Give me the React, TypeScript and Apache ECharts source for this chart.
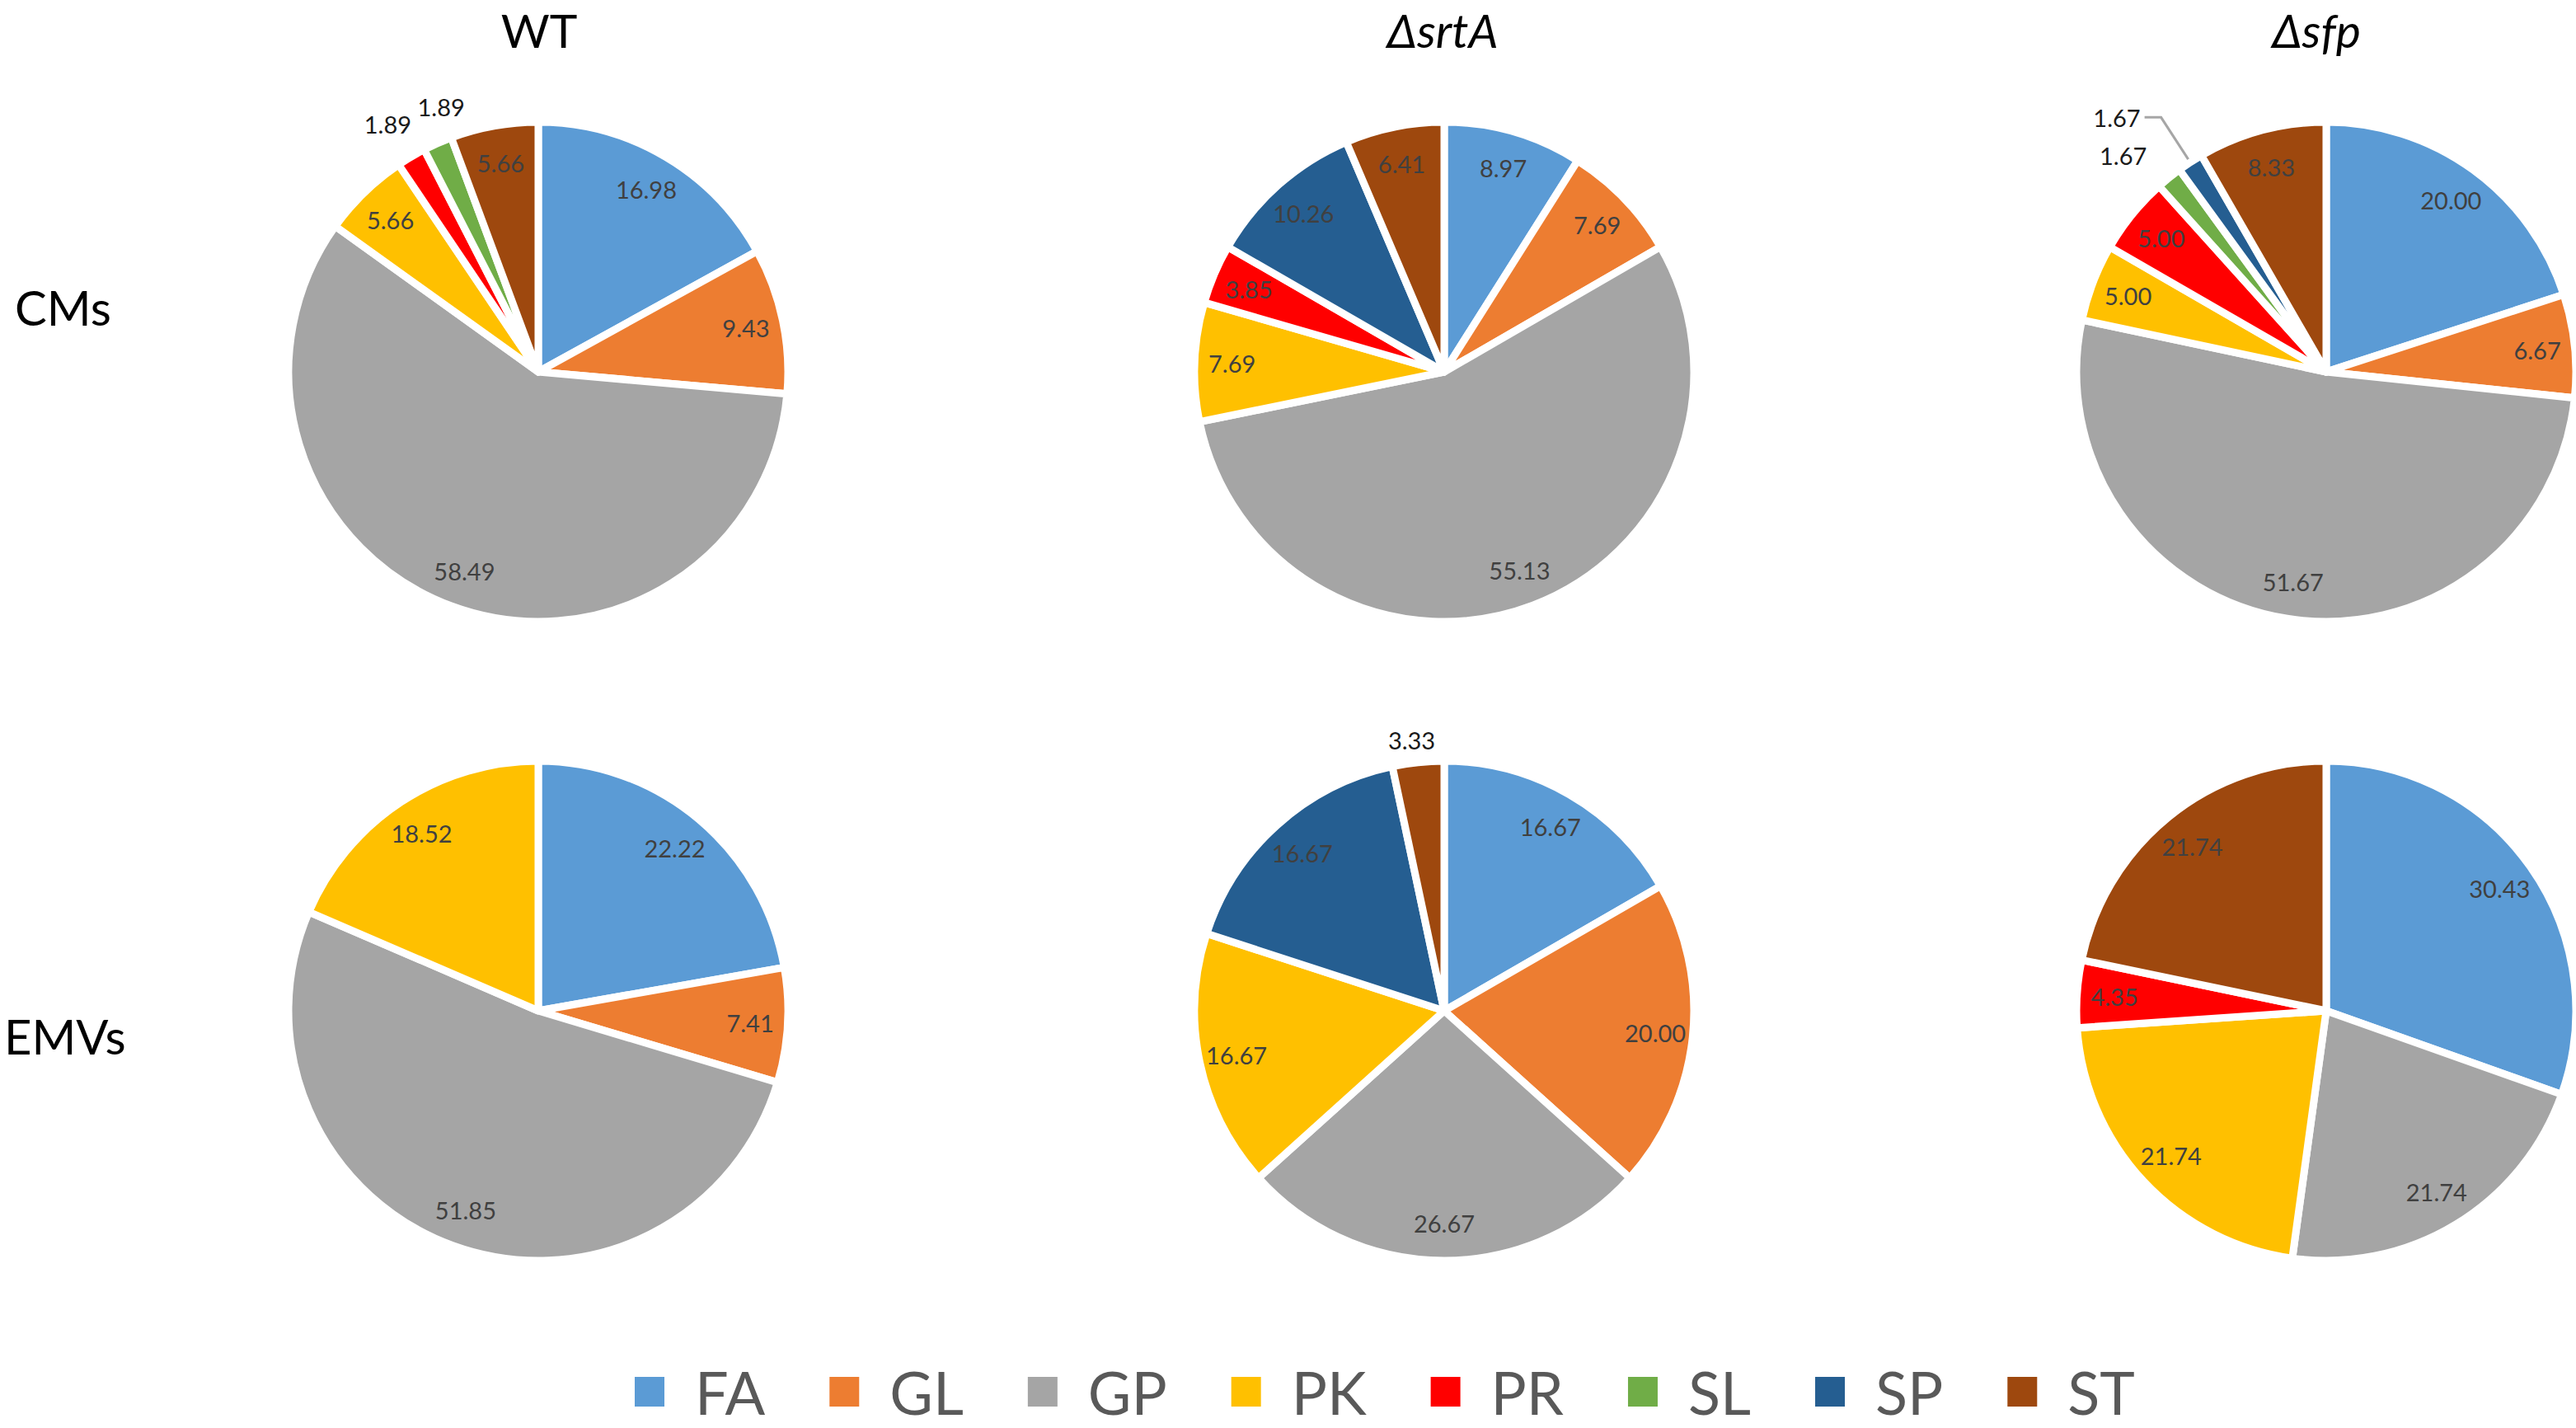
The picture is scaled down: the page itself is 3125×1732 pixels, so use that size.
import React, { useEffect, useRef } from "react";
import * as echarts from "echarts";

const categories = ["FA", "GL", "GP", "PK", "PR", "SL", "SP", "ST"];
const palette = ["#5B9BD5", "#ED7D31", "#A5A5A5", "#FFC000", "#FF0000", "#70AD47", "#255E91", "#9E480E"];

const strains = ["WT", "ΔsrtA", "Δsfp"];
const fractions = ["CMs", "EMVs"];

const wtCMs = [16.98, 9.43, 58.49, 5.66, 1.89, 1.89, 0, 5.66];
const srtaCMs = [8.97, 7.69, 55.13, 7.69, 3.85, 0, 10.26, 6.41];
const sfpCMs = [20.0, 6.67, 51.67, 5.0, 5.0, 1.67, 1.67, 8.33];
const wtEMVs = [22.22, 7.41, 51.85, 18.52, 0, 0, 0, 0];
const srtaEMVs = [16.67, 20.0, 26.67, 16.67, 0, 0, 16.67, 3.33];
const sfpEMVs = [30.43, 0, 21.74, 21.74, 4.35, 0, 0, 21.74];

// outside labels: [pieIndex, categoryIndex, lineLength, showLine, textAlign]
const outsideLabels: [number, number, number, boolean, string][] = [
  [0, 4, 46, false, "center"],
  [0, 5, 48, false, "left"],
  [2, 5, 35, false, "right"],
  [2, 6, 65, true, "right"],
  [4, 7, 27, false, "center"],
];

const FONT = "Lato, 'Open Sans', sans-serif";
const R = 303;
const colX = [653, 1752, 2822];
const rowY = [451, 1226];
const titleX = [654, 1750, 2810];

export default function App() {
  const ref = useRef<HTMLDivElement>(null);
  useEffect(() => {
    document.body.style.margin = "0";
    if (!ref.current) return;
    const chart = echarts.init(ref.current, undefined, { renderer: "svg" });
    const pies = [wtCMs, srtaCMs, sfpCMs, wtEMVs, srtaEMVs, sfpEMVs];
    const shapeSeries: any[] = [];
    const labelSeries: any[] = [];
    pies.forEach((vals, p) => {
      const center = [colX[p % 3], rowY[Math.floor(p / 3)]];
      const shapes: any[] = [];
      const labels: any[] = [];
      const alignByIndex: Record<number, string> = {};
      vals.forEach((v, i) => {
        if (!v) return;
        shapes.push({ name: categories[i], value: v, itemStyle: { color: palette[i] } });
        const out = outsideLabels.find((o) => o[0] === p && o[1] === i);
        const item: any = { name: categories[i], value: v };
        if (out) {
          item.label = { position: "outside", color: "#1a1a1a" };
          item.labelLine = out[3]
            ? { show: true, length: out[2], length2: 20, lineStyle: { color: "#A6A6A6", width: 3 } }
            : { show: false, length: out[2], length2: 0 };
          alignByIndex[labels.length] = out[4];
        }
        labels.push(item);
      });
      shapeSeries.push({
        type: "pie",
        center,
        radius: [0, R],
        startAngle: 90,
        clockwise: true,
        avoidLabelOverlap: false,
        label: { show: false },
        labelLine: { show: false },
        itemStyle: { borderColor: "#ffffff", borderWidth: 9 },
        emphasis: { disabled: true },
        silent: true,
        data: shapes,
      });
      labelSeries.push({
        type: "pie",
        center,
        radius: [R * 0.68, R],
        startAngle: 90,
        clockwise: true,
        avoidLabelOverlap: false,
        silent: true,
        emphasis: { disabled: true },
        itemStyle: { color: "rgba(0,0,0,0)", borderWidth: 0 },
        label: {
          show: true,
          position: "inside",
          fontSize: 29,
          fontFamily: FONT,
          color: "#404040",
          formatter: (prm: any) => Number(prm.value).toFixed(2),
        },
        labelLine: { show: false },
        labelLayout: (prm: any) => {
          const a = alignByIndex[prm.dataIndex];
          return a ? { hideOverlap: false, align: a } : { hideOverlap: false };
        },
        data: labels,
      });
    });

    const graphics: any[] = [];
    strains.forEach((s, i) => {
      graphics.push({
        type: "text",
        x: titleX[i],
        y: 36,
        style: {
          text: s,
          fontSize: 57,
          fontFamily: FONT,
          fontStyle: i === 0 ? "normal" : "italic",
          fill: "#000000",
          textAlign: "center",
          textVerticalAlign: "middle",
        },
      });
    });
    const rowLabelX = [18, 5];
    const rowLabelY = [372, 1256];
    fractions.forEach((f, i) => {
      graphics.push({
        type: "text",
        x: rowLabelX[i],
        y: rowLabelY[i],
        style: {
          text: f,
          fontSize: 58,
          fontFamily: FONT,
          fill: "#000000",
          textAlign: "left",
          textVerticalAlign: "middle",
        },
      });
    });

    chart.setOption({
      animation: false,
      backgroundColor: "#ffffff",
      legend: {
        left: 768,
        top: 1652,
        padding: 0,
        icon: "rect",
        itemWidth: 38,
        itemHeight: 38,
        itemGap: 76,
        selectedMode: false,
        textStyle: {
          fontSize: 72,
          fontFamily: FONT,
          color: "#595959",
          lineHeight: 64,
          padding: [0, 0, 0, 31],
        },
        data: categories.map((c, i) => ({ name: c, itemStyle: { color: palette[i] } })),
      },
      graphic: graphics,
      series: [...shapeSeries, ...labelSeries],
    });
    return () => chart.dispose();
  }, []);
  return <div ref={ref} style={{ width: 3125, height: 1732 }} />;
}
